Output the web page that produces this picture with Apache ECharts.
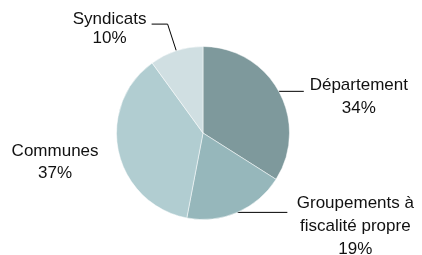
<!DOCTYPE html>
<html>
<head>
<meta charset="utf-8">
<script src="https://cdn.jsdelivr.net/npm/echarts@6/dist/echarts.min.js"></script>
<style>
  html, body { margin: 0; padding: 0; background: #fff; }
  #pie { width: 422px; height: 255px; }
</style>
</head>
<body>
<div id="pie"></div>
<script>
// répartition par type de collectivité
var categories = ['Département', 'Groupements à\nfiscalité propre', 'Communes', 'Syndicats'];
var shares = [34, 19, 37, 10];

var sliceColors = ['#7e999c', '#96b7bb', '#b1cdd1', '#d0dfe2'];
var richKeys = ['d', 'g', 'c', 's'];
// leader line [length, length2], label padding top
var lineLens = [[0, 25], [0, 50], [0, 13], [28, 16]];
var padTop = [10, 28, 20, 10];

var data = categories.map(function (name, i) {
    return {
        name: name,
        value: shares[i],
        itemStyle: { color: sliceColors[i] },
        label: { padding: [padTop[i], 0, 0, 0] },
        labelLine: {
            show: name !== 'Communes',
            length: lineLens[i][0],
            length2: lineLens[i][1]
        }
    };
});

function richLine(w, lh) {
    return {
        width: w,
        align: 'center',
        lineHeight: lh,
        fontSize: 17,
        fontFamily: 'Liberation Sans',
        color: '#111'
    };
}

var option = {
    animation: false,
    series: [{
        type: 'pie',
        center: [203, 133],
        radius: [0, 86.5],
        startAngle: 90,
        clockwise: true,
        avoidLabelOverlap: false,
        itemStyle: {
            borderColor: '#ffffff',
            borderWidth: 0.5
        },
        label: {
            show: true,
            position: 'outside',
            bleedMargin: 0,
            distanceToLabelLine: 5,
            formatter: function (p) {
                var k = richKeys[p.dataIndex];
                var lines = p.name.split('\n').map(function (t) {
                    return '{' + k + '|' + t + '}';
                });
                lines.push('{' + k + '|' + p.value + '%}');
                return lines.join('\n');
            },
            rich: {
                d: richLine(100, 23),
                g: richLine(126, 23),
                c: richLine(91, 22),
                s: richLine(74, 19)
            }
        },
        labelLine: {
            smooth: false,
            lineStyle: { color: '#000', width: 1 }
        },
        emphasis: { disabled: true },
        data: data
    }]
};

var myChart = echarts.init(document.getElementById('pie'));
myChart.setOption(option);
</script>
</body>
</html>
